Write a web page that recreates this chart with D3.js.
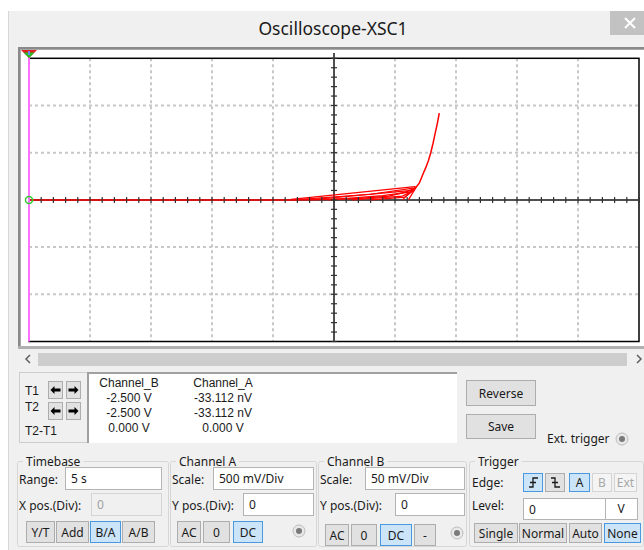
<!DOCTYPE html>
<html>
<head>
<meta charset="utf-8">
<script src="https://cdn.jsdelivr.net/npm/d3@7/dist/d3.min.js"></script>
<style>
body { margin: 0; background: #ffffff; }
text { font-family: "Noto Sans", sans-serif; }
text.rd { font-family: "Liberation Sans", Arial, sans-serif; }
</style>
</head>
<body>
<div id="canvas"></div>
<script>
// B/A display: x = Channel A (mV), y = Channel B (mV)
var xDivs = [-2500, -2000, -1500, -1000, -500, 0, 500, 1000, 1500, 2000, 2500];
var yDivs = [-150, -100, -50, 0, 50, 100, 150];

// main sweep of the trace
var traceMain = [[-2500, 0], [-352, 0], [-100, 0.4], [200, 1.5], [450, 4], [580, 8], [640, 11],
	[678, 14.3], [700, 18], [719, 24], [738, 30], [754, 34.7], [775, 42], [793, 50],
	[812, 60], [830, 71], [847, 81], [863, 92]];
// retrace loops near the knee
var traceLoops = [
	[[-352, 0.6], [664, 14]],
	[[-330, 0], [300, 6], [650, 12.5]],
	[[-200, 0], [640, 10]],
	[[-50, 0], [400, 4.5], [630, 8.5], [670, 13]],
	[[150, 0], [560, 4], [640, 9]],
	[[300, 0], [580, 3], [660, 11]],
	[[678, 14.3], [610, 0]],
	[[650, 11], [560, 0]]
];

var readHead = ["Channel_B", "Channel_A"];
var readT1 = ["-2.500 V", "-33.112 nV"];
var readT2 = ["-2.500 V", "-33.112 nV"];
var readDiff = ["0.000 V", "0.000 V"];

var timebaseRange = "5 s";
var timebaseXpos = "0";
var chAScale = "500 mV/Div";
var chAYpos = "0";
var chBScale = "50 mV/Div";
var chBYpos = "0";
var trigLevel = "0";
var trigUnit = "V";

var svg = d3.select("#canvas").append("svg")
	.attr("width", 644)
	.attr("height", 550);

// window
svg.append("rect").attr("x", 8).attr("y", 11).attr("width", 640).attr("height", 545).attr("fill", "#f0f0f0");
svg.append("line").attr("x1", 8.5).attr("x2", 8.5).attr("y1", 11).attr("y2", 550).attr("stroke", "#d8d8d8");
svg.append("text").text("Oscilloscope-XSC1")
	.attr("x", 333).attr("y", 35).attr("text-anchor", "middle")
	.attr("font-size", 17.5).attr("fill", "#1a1a1a");
svg.append("rect").attr("x", 610).attr("y", 11).attr("width", 34).attr("height", 24).attr("fill", "#c2c2c2");
svg.append("path").attr("d", "M625,18L635,28M635,18L625,28").attr("stroke", "#ffffff").attr("stroke-width", 2);

// plot panel
svg.append("rect").attr("x", 18).attr("y", 47).attr("width", 630).attr("height", 302).attr("fill", "#8a8a8a");
svg.append("rect").attr("x", 20).attr("y", 49).attr("width", 628).attr("height", 300).attr("fill", "#a8a8a8");
svg.append("rect").attr("x", 21).attr("y", 50).attr("width", 627).attr("height", 296).attr("fill", "#ffffff");

var x = d3.scaleLinear().domain([-2500, 2500]).range([29, 639]);
var y = d3.scaleLinear().domain([-150, 150]).range([341.5, 58.3]);

var plot = svg.append("g");

plot.selectAll("line.gx")
	.data(xDivs.filter(function(d){ return d !== 0 && d !== -2500 && d !== 2500; }))
	.enter().append("line")
	.attr("x1", function(d){ return x(d); }).attr("x2", function(d){ return x(d); })
	.attr("y1", y(150)).attr("y2", y(-150))
	.attr("stroke", "#c8c8c8").attr("stroke-width", 2).attr("stroke-dasharray", "3,3");

plot.selectAll("line.gy")
	.data(yDivs.filter(function(d){ return d !== 0 && d !== -150 && d !== 150; }))
	.enter().append("line")
	.attr("y1", function(d){ return y(d); }).attr("y2", function(d){ return y(d); })
	.attr("x1", x(-2500)).attr("x2", x(2500))
	.attr("stroke", "#c8c8c8").attr("stroke-width", 2).attr("stroke-dasharray", "3,3");

plot.append("rect")
	.attr("x", x(-2500)).attr("y", y(150))
	.attr("width", x(2500) - x(-2500)).attr("height", y(-150) - y(150))
	.attr("fill", "none").attr("stroke", "#000000").attr("stroke-width", 1.5);

// center axes
plot.append("line").attr("x1", x(0)).attr("x2", x(0)).attr("y1", 53).attr("y2", y(-150))
	.attr("stroke", "#505050").attr("stroke-width", 2);
plot.append("line").attr("x1", x(-2500)).attr("x2", x(2500)).attr("y1", y(0)).attr("y2", y(0))
	.attr("stroke", "#505050").attr("stroke-width", 2);

// trace
var line = d3.line().x(function(d){ return x(d[0]); }).y(function(d){ return y(d[1]); });
plot.selectAll("path.loop").data(traceLoops).enter().append("path")
	.attr("d", line).attr("fill", "none").attr("stroke", "#ff0000").attr("stroke-width", 1.2);
plot.append("path").datum(traceMain)
	.attr("d", line).attr("fill", "none").attr("stroke", "#ff0000").attr("stroke-width", 1.5);

// minor ticks on center axes
plot.selectAll("line.tx").data(x.ticks(50)).enter().append("line")
	.attr("x1", function(d){ return x(d); }).attr("x2", function(d){ return x(d); })
	.attr("y1", y(0) - 3).attr("y2", y(0) + 3)
	.attr("stroke", "#303030").attr("stroke-width", 1.2);
plot.selectAll("line.ty").data(y.ticks(30)).enter().append("line")
	.attr("y1", function(d){ return y(d); }).attr("y2", function(d){ return y(d); })
	.attr("x1", x(0) - 3).attr("x2", x(0) + 3)
	.attr("stroke", "#303030").attr("stroke-width", 1.2);

// cursor T1/T2 and ground marker
plot.append("line").attr("x1", x(-2500)).attr("x2", x(-2500)).attr("y1", 52).attr("y2", y(-150))
	.attr("stroke", "#ff70ff").attr("stroke-width", 2);
plot.append("polygon").attr("points", "21,50 37,50 29,58").attr("fill", "#e02020");
plot.append("polygon").attr("points", "23.5,52.5 34.5,52.5 29,58").attr("fill", "#22c022");
plot.append("rect").attr("x", 28).attr("y", 51).attr("width", 2).attr("height", 4).attr("fill", "#6b8cff");
plot.append("circle").attr("cx", x(-2500)).attr("cy", y(0)).attr("r", 3.5)
	.attr("fill", "none").attr("stroke", "#33cc33").attr("stroke-width", 1.5);

// scrollbar
svg.append("rect").attr("x", 18).attr("y", 346).attr("width", 630).attr("height", 3).attr("fill", "#b0b0b0");
svg.append("rect").attr("x", 38).attr("y", 353).attr("width", 589).attr("height", 13).attr("fill", "#cdcdcd");
svg.append("path").attr("d", "M30,355L26,359L30,363").attr("fill", "none").attr("stroke", "#606060").attr("stroke-width", 1.5);
svg.append("path").attr("d", "M637,355L641,359L637,363").attr("fill", "none").attr("stroke", "#606060").attr("stroke-width", 1.5);

var ui = svg.append("g").attr("font-size", 12);

function label(t, lx, ly, anchor, color) {
	return ui.append("text").text(t).attr("x", lx).attr("y", ly)
		.attr("text-anchor", anchor || "start").attr("fill", color || "#1a1a1a");
}

function button(bx, by, bw, bh, t, on, disabled) {
	ui.append("rect").attr("x", bx + 0.5).attr("y", by + 0.5).attr("width", bw - 1).attr("height", bh - 1)
		.attr("fill", on ? "#cce4f7" : (disabled ? "#f4f4f4" : "#e1e1e1"))
		.attr("stroke", on ? "#4a98e0" : (disabled ? "#d4d4d4" : "#adadad"));
	if (t !== null) {
		label(t, bx + bw / 2, by + bh / 2 + 4.5, "middle", disabled ? "#a8a8a8" : "#1a1a1a");
	}
}

function input(ix, iy, iw, ih, t, disabled) {
	ui.append("rect").attr("x", ix + 0.5).attr("y", iy + 0.5).attr("width", iw - 1).attr("height", ih - 1)
		.attr("fill", disabled ? "#f0f0f0" : "#ffffff")
		.attr("stroke", disabled ? "#d4d4d4" : "#b4b4b4");
	label(t, ix + 6, iy + ih / 2 + 4.5, "start", disabled ? "#a0a0a0" : "#1a1a1a");
}

function groupBox(gx, gy, gw, gh, t) {
	ui.append("rect").attr("x", gx + 0.5).attr("y", gy + 0.5).attr("width", gw).attr("height", gh)
		.attr("rx", 2).attr("fill", "none").attr("stroke", "#d6d6d6");
	var tt = label(t, gx + 9, gy + 4.5);
	var tw = tt.node().getComputedTextLength();
	ui.insert("rect", function(){ return tt.node(); })
		.attr("x", gx + 6).attr("y", gy - 3).attr("width", tw + 6).attr("height", 8).attr("fill", "#f0f0f0");
}

function radio(cx, cy) {
	ui.append("circle").attr("cx", cx).attr("cy", cy).attr("r", 6).attr("fill", "#e8e8e8").attr("stroke", "#bcbcbc");
	ui.append("circle").attr("cx", cx).attr("cy", cy).attr("r", 3).attr("fill", "#7a7a7a");
}

function arrowBtn(bx, by, dir) {
	button(bx, by, 15, 18, null, false, false);
	var cx = bx + 7.5, cy = by + 9;
	var p = dir < 0
		? "M" + (cx - 5) + "," + cy + "L" + (cx - 1) + "," + (cy - 4) + "L" + (cx - 1) + "," + (cy - 1.5) + "L" + (cx + 5) + "," + (cy - 1.5) + "L" + (cx + 5) + "," + (cy + 1.5) + "L" + (cx - 1) + "," + (cy + 1.5) + "L" + (cx - 1) + "," + (cy + 4) + "Z"
		: "M" + (cx + 5) + "," + cy + "L" + (cx + 1) + "," + (cy - 4) + "L" + (cx + 1) + "," + (cy - 1.5) + "L" + (cx - 5) + "," + (cy - 1.5) + "L" + (cx - 5) + "," + (cy + 1.5) + "L" + (cx + 1) + "," + (cy + 1.5) + "L" + (cx + 1) + "," + (cy + 4) + "Z";
	ui.append("path").attr("d", p).attr("fill", "#000000");
}

// cursor readout
ui.append("rect").attr("x", 19.5).attr("y", 372.5).attr("width", 68).attr("height", 70).attr("fill", "none").attr("stroke", "#cdcdcd");
ui.append("rect").attr("x", 87).attr("y", 372).attr("width", 370).attr("height", 71).attr("fill", "#ffffff");
ui.append("path").attr("d", "M88,443V373H457").attr("fill", "none").attr("stroke", "#a0a0a0").attr("stroke-width", 2);
label("T1", 25, 395).attr("class", "rd");
label("T2", 25, 411).attr("class", "rd");
label("T2-T1", 25, 435).attr("class", "rd");
arrowBtn(48, 381, -1); arrowBtn(66, 381, 1);
arrowBtn(48, 402, -1); arrowBtn(66, 402, 1);
var colX = [129, 223];
readHead.forEach(function(t, i){ label(t, colX[i], 386.5, "middle").attr("class", "rd"); });
readT1.forEach(function(t, i){ label(t, colX[i], 401.5, "middle").attr("class", "rd"); });
readT2.forEach(function(t, i){ label(t, colX[i], 416.5, "middle").attr("class", "rd"); });
readDiff.forEach(function(t, i){ label(t, colX[i], 431.5, "middle").attr("class", "rd"); });

button(466, 380, 70, 26, "Reverse", false, false);
button(466, 414, 70, 25, "Save", false, false);
label("Ext. trigger", 547, 443);
radio(622, 439);

// Timebase
groupBox(17, 461, 151, 85, "Timebase");
label("Range:", 19, 484);
input(65, 467, 97, 23, timebaseRange, false);
label("X pos.(Div):", 19, 510);
input(91, 493, 71, 23, timebaseXpos, true);
button(26, 521, 29, 22, "Y/T", false, false);
button(56, 521, 33, 22, "Add", false, false);
button(90, 521, 31, 22, "B/A", true, false);
button(122, 521, 33, 22, "A/B", false, false);

// Channel A
groupBox(170, 461, 146, 85, "Channel A");
label("Scale:", 172, 484);
input(213, 467, 101, 23, chAScale, false);
label("Y pos.(Div):", 172, 510);
input(243, 493, 71, 23, chAYpos, false);
button(177, 521, 24, 22, "AC", false, false);
button(203, 521, 27, 22, "0", false, false);
button(233, 521, 30, 22, "DC", true, false);
radio(299, 531);

// Channel B
groupBox(318, 461, 148, 85, "Channel B");
label("Scale:", 320, 484);
input(365, 467, 100, 23, chBScale, false);
label("Y pos.(Div):", 320, 510);
input(395, 493, 70, 23, chBYpos, false);
button(325, 524, 24, 22, "AC", false, false);
button(351, 524, 26, 22, "0", false, false);
button(380, 524, 32, 22, "DC", true, false);
button(414, 524, 22, 22, "-", false, false);
radio(457, 533);

// Trigger
groupBox(469, 461, 174, 85, "Trigger");
label("Edge:", 472, 487);
button(523, 473, 20, 19, null, true, false);
ui.append("path").attr("d", "M529,487H533V478H538M530,482.5H536").attr("fill", "none").attr("stroke", "#1a1a1a").attr("stroke-width", 1.3);
button(545, 473, 20, 19, null, false, false);
ui.append("path").attr("d", "M551,478H555V487H560M552,482.5H558").attr("fill", "none").attr("stroke", "#1a1a1a").attr("stroke-width", 1.3);
button(569, 473, 21, 19, "A", true, false);
button(592, 473, 20, 19, "B", false, true);
button(614, 473, 23, 19, "Ext", false, true);
label("Level:", 472, 510);
input(523, 498, 83, 22, trigLevel, false);
ui.append("rect").attr("x", 605.5).attr("y", 498.5).attr("width", 32).attr("height", 21).attr("fill", "#ffffff").attr("stroke", "#b4b4b4");
label(trigUnit, 621, 513, "middle");
button(474, 523, 44, 20, "Single", false, false);
button(519, 523, 48, 20, "Normal", false, false);
button(569, 523, 33, 20, "Auto", false, false);
button(604, 523, 37, 20, "None", true, false);
</script>
</body>
</html>
